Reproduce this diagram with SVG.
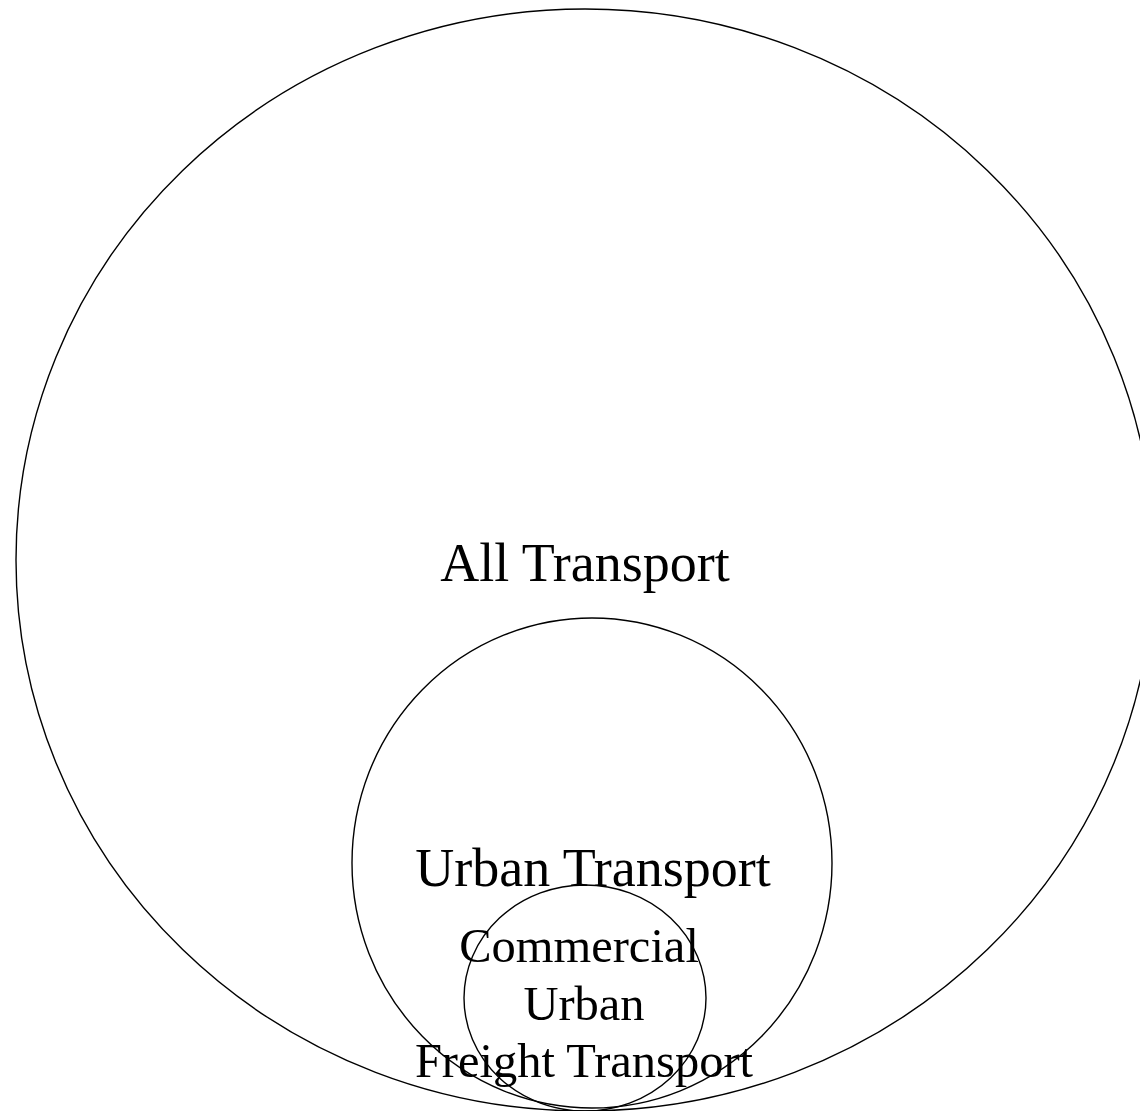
<svg xmlns="http://www.w3.org/2000/svg" width="1140" height="1111" viewBox="0 0 1140 1111">
<style>
.c{fill:none;stroke:#000;stroke-width:1.4}
.t{font-family:"Liberation Serif","Times New Roman",serif;fill:#000;text-anchor:middle}
</style>
<rect width="1140" height="1111" fill="#fff"/>
<g id="all-transport">
<ellipse class="c" cx="585" cy="560" rx="569" ry="551"/>
<text class="t" x="585" y="581" font-size="54">All Transport</text>
</g>
<g id="urban-transport">
<ellipse class="c" cx="592" cy="863" rx="240" ry="245"/>
<text class="t" x="593" y="886" font-size="54">Urban Transport</text>
</g>
<g id="commercial-urban-freight">
<ellipse class="c" cx="585" cy="998" rx="121" ry="113"/>
<text class="t" font-size="48.5"><tspan x="579" y="962">Commercial</tspan><tspan x="584" y="1020">Urban</tspan><tspan x="584" y="1077">Freight Transport</tspan></text>
</g>
<g id="connectors"/>
</svg>
